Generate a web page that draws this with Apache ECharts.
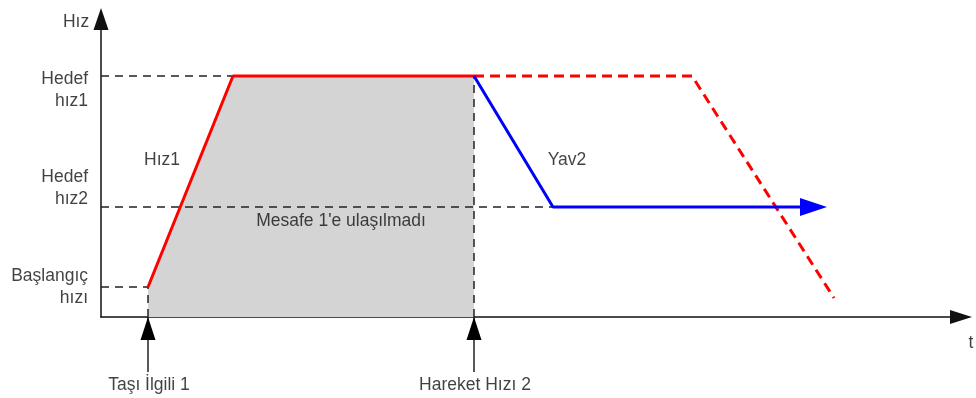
<!DOCTYPE html>
<html><head><meta charset="utf-8">
<script src="https://cdn.jsdelivr.net/npm/echarts@6/dist/echarts.min.js"></script>
<style>html,body{margin:0;padding:0;background:#fff}#c{width:976px;height:398px}</style>
</head><body><div id="c"></div>
<script>
// time axis (arbitrary units), speed axis (arbitrary units)
const accelX = [4.7, 13.2, 37.3];
const accelY = [3.0, 24.1, 24.1];
const plannedX = [37.3, 59.1, 73.3];
const plannedY = [24.1, 24.1, 1.9];
const move2X = [37.3, 45.2, 71.25];
const move2Y = [24.1, 11.0, 11.0];
const speedLevels = [3.0, 11.0, 24.1];
const speedLevelNames = ['Başlangıç\nhızı', 'Hedef\nhız2', 'Hedef\nhız1'];
const speedLabelY = [2.95, 12.85, 22.7];
const eventTimes = [4.7, 37.3];
const eventNames = ['Taşı İlgili 1', 'Hareket Hızı 2'];
const noteNames = ['Hız1', 'Yav2', "Mesafe 1'e ulaşılmadı", 'Hız', 't'];
const noteX = [6.1, 46.6, 24.0, -2.5, 87.0];
const noteY = [15.7, 15.7, 9.6, 29.5, -2.6];

const FONT = "'Liberation Sans', Arial, sans-serif";
const TXT = '#111';
const FS = 17.5;
const zip = (xs, ys) => xs.map((x, i) => [x, ys[i]]);

const series = [];
// shaded area
series.push({type:'line', data: zip(accelX, accelY), showSymbol:false, lineStyle:{width:0},
  areaStyle:{color:'#d4d4d4', opacity:1}, z:1, silent:true});
// guide dashed lines
const guide = (pts) => series.push({type:'line', data: pts, showSymbol:false, clip:false, silent:true, z:2,
  lineStyle:{color:'#222', width:1.5, type:[8,6]}});
guide([[0, speedLevels[2]], [accelX[2], speedLevels[2]]]);
guide([[0, speedLevels[1]], [move2X[1], speedLevels[1]]]);
guide([[0, speedLevels[0]], [accelX[0], speedLevels[0]]]);
guide([[eventTimes[1], 0], [eventTimes[1], speedLevels[2]]]);
guide([[eventTimes[0], 0], [eventTimes[0], speedLevels[0]]]);
// planned (dashed red)
series.push({type:'line', data: zip(plannedX, plannedY), showSymbol:false, z:3, silent:true,
  lineStyle:{color:'#ff0000', width:3, type:[10,6]}});
// actual accel (red)
series.push({type:'line', data: zip(accelX, accelY), showSymbol:false, z:4, silent:true,
  lineStyle:{color:'#ff0000', width:3}});
// move 2 (blue)
series.push({type:'line', data: zip(move2X, move2Y), showSymbol:false, z:4, silent:true,
  lineStyle:{color:'#0000ff', width:3}});
series.push({type:'scatter', data:[[move2X[2], move2Y[2]]], z:5, silent:true,
  symbol:'path://M0,0L27,9L0,18Z', symbolSize:[27,18], itemStyle:{color:'#0000ff', opacity:1}});
// event arrows below axis
eventTimes.forEach(t => {
  series.push({type:'line', data:[[t, 0], [t, -5.5]], showSymbol:false, clip:false, silent:true, z:5,
    lineStyle:{color:'#222', width:1.5}});
  series.push({type:'scatter', data:[[t, -1.15]], clip:false, silent:true, z:6,
    symbol:'triangle', symbolSize:[15,23], itemStyle:{color:'#000', opacity:1}});
});
const lbl = (align, extra) => Object.assign({show:true, position:'inside', align, verticalAlign:'middle',
  formatter:p=>p.name, fontFamily:FONT, fontSize:FS, color:TXT, textBorderWidth:0}, extra || {});
// level labels
series.push({type:'scatter', symbolSize:0, clip:false, silent:true, z:10,
  data: speedLevelNames.map((n, i) => ({name:n, value:[-1.3, speedLabelY[i]]})),
  label: lbl('right', {lineHeight:22})});
// event labels
series.push({type:'scatter', symbolSize:0, clip:false, silent:true, z:10,
  data: eventNames.map((n, i) => ({name:n, value:[eventTimes[i] + 0.1, -6.8]})),
  label: lbl('center')});
// notes
series.push({type:'scatter', symbolSize:0, clip:false, silent:true, z:10,
  data: noteNames.map((n, i) => ({name:n, value:[noteX[i], noteY[i]]})),
  label: lbl('center')});

const chart = echarts.init(document.getElementById('c'), null, {renderer:'canvas'});
chart.setOption({
  animation:false,
  backgroundColor:'#fff',
  grid:{left:101, right:15, top:19, bottom:81, containLabel:false},
  xAxis:{type:'value', min:0, max:86, axisLabel:{show:false}, axisTick:{show:false}, splitLine:{show:false},
    axisLine:{show:true, symbol:['none','triangle'], symbolSize:[14,22], lineStyle:{color:'#111', width:1.5}}},
  yAxis:{type:'value', min:0, max:29.8, axisLabel:{show:false}, axisTick:{show:false}, splitLine:{show:false},
    axisLine:{show:true, symbol:['none','triangle'], symbolSize:[15,22], lineStyle:{color:'#111', width:1.5}}},
  series
});
</script></body></html>
